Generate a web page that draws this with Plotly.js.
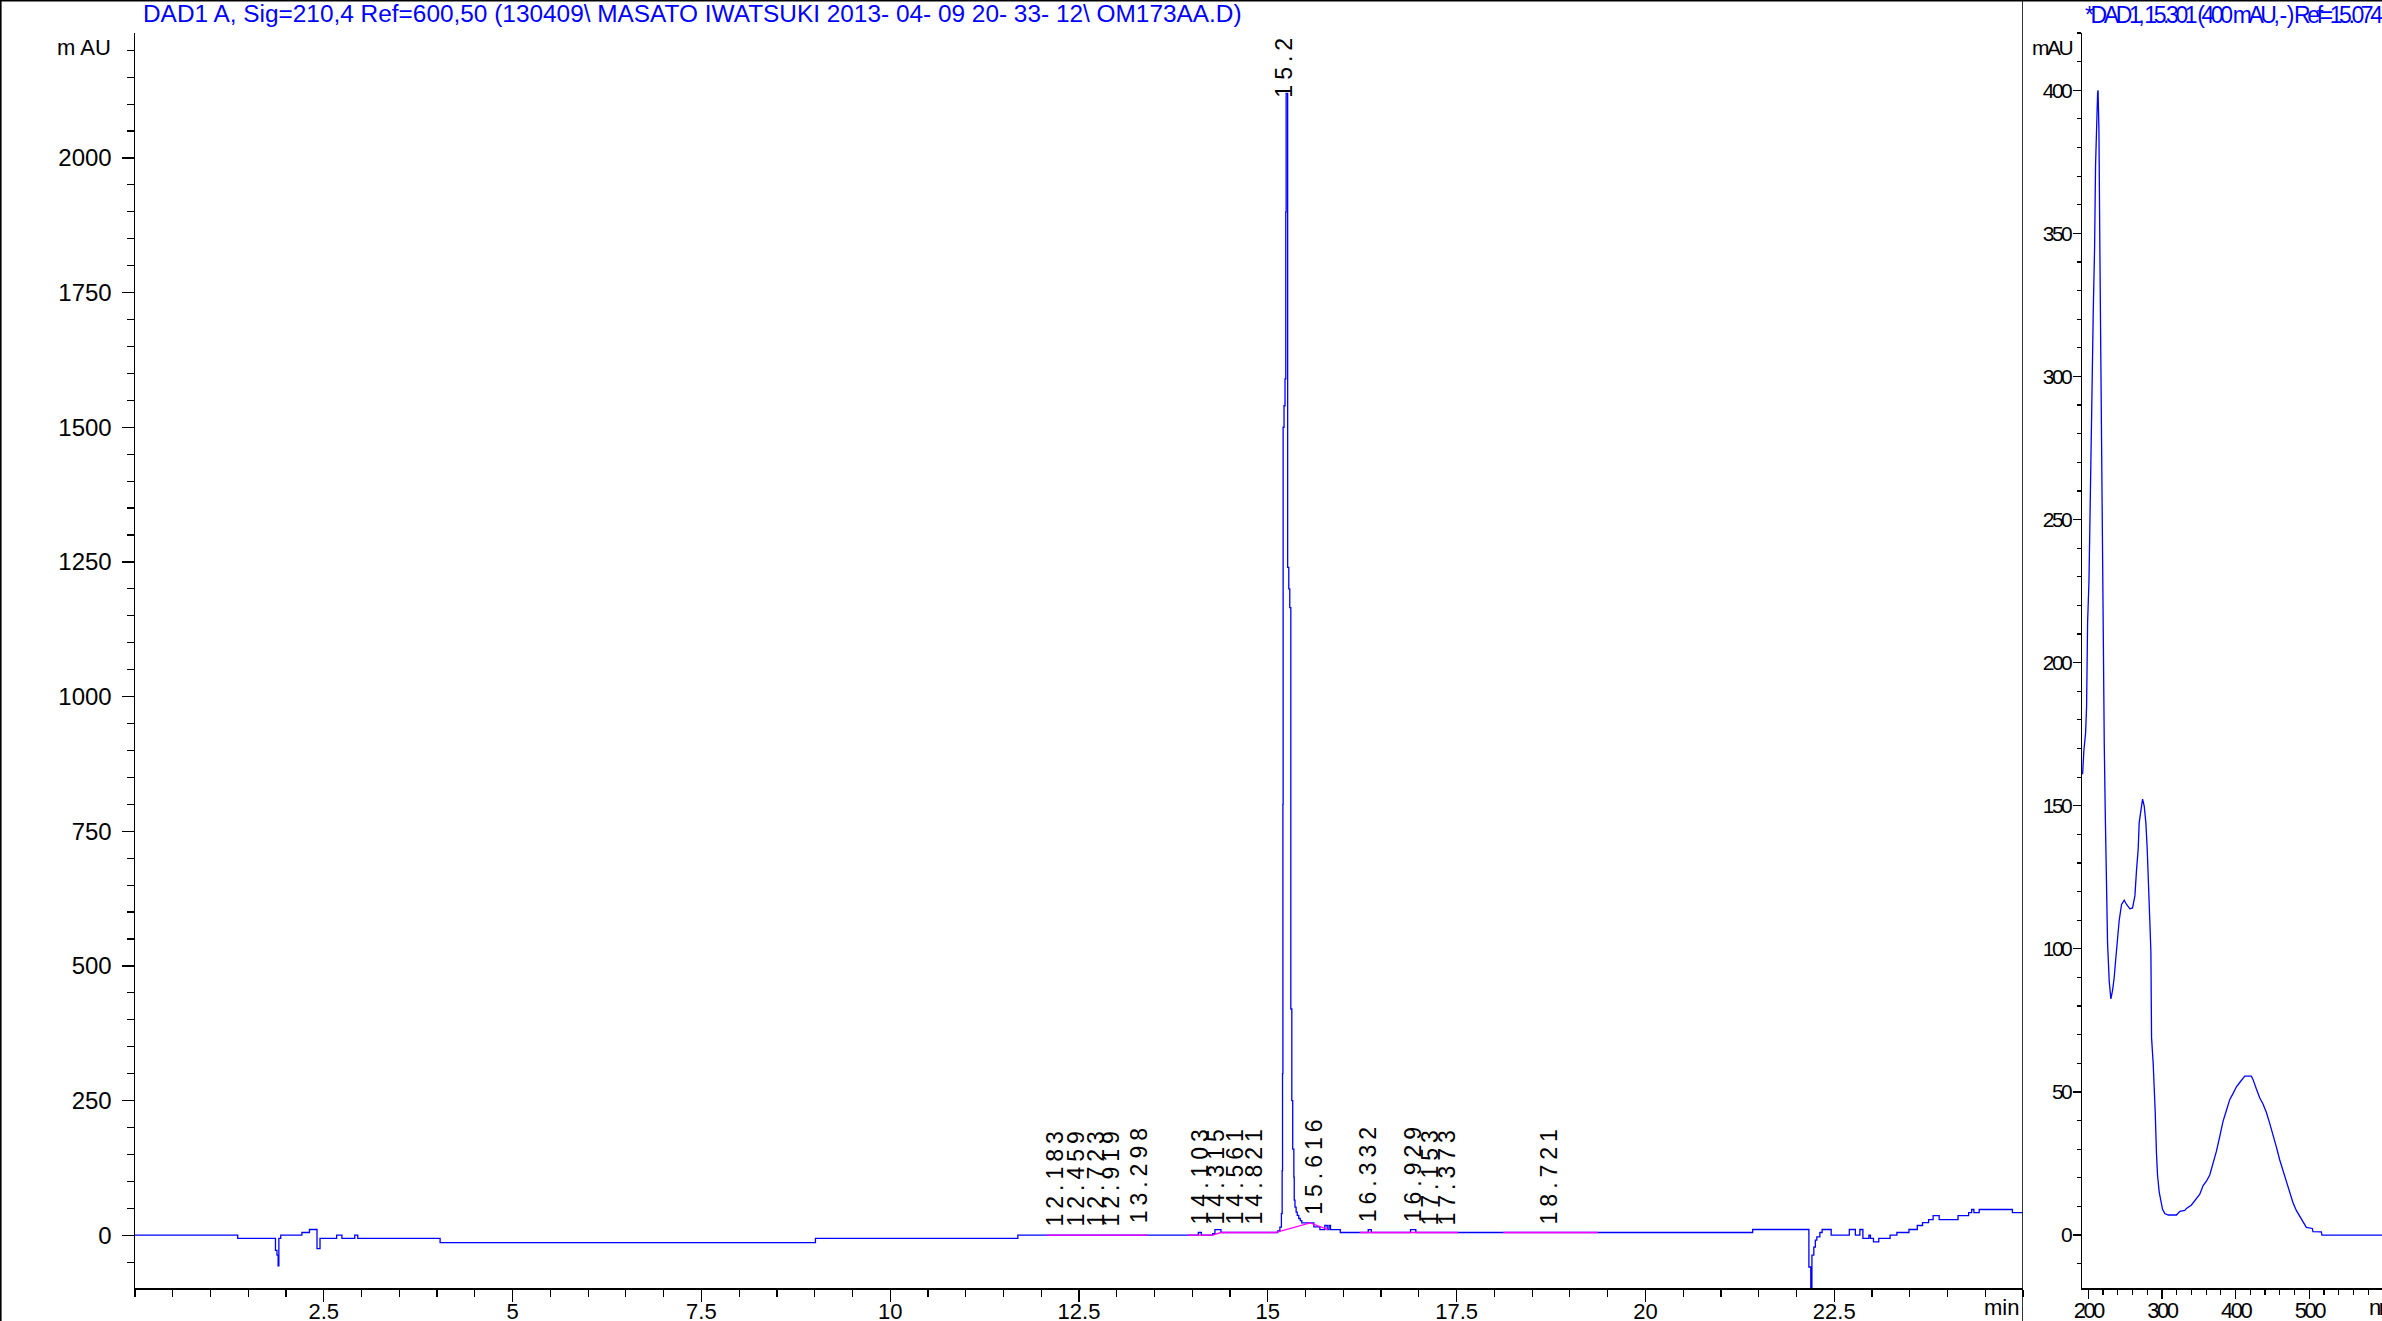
<!DOCTYPE html>
<html><head><meta charset="utf-8">
<script src="https://cdn.plot.ly/plotly-3.0.1.min.js"></script>
<style>
html,body{margin:0;padding:0;background:#fff;overflow:hidden}
#chart{width:2382px;height:1321px}
text.bartext{letter-spacing:5px}
text[style*="Narrow"]{letter-spacing:-2.5px}
text[style*="Arimo"]{letter-spacing:-3.4px}
</style></head><body><div id="chart"></div>
<script>
// ---------- DATA ----------
// Chromatogram (DAD1 A, 210 nm): retention time (min) and absorbance (mAU), stepwise
const timeMin = [0,1.36,1.86,1.88,1.895,1.905,1.93,2.21,2.31,2.41,2.45,2.67,2.74,2.91,2.95,4.04,9.01,11.69,
  14.08,14.12,14.27,14.30,14.38,15.10,15.13,15.16,15.18,15.19,15.195,15.20,15.203,15.215,15.228,15.238,15.243,
  15.263,15.278,15.291,15.305,15.318,15.33,15.345,15.35,15.36,15.375,15.39,15.41,15.43,15.45,15.61,15.69,15.755,
  15.787,15.81,15.83,15.96,16.33,16.37,16.89,16.96,21.42,22.165,22.19,22.205,22.23,22.25,22.27,22.31,22.34,22.46,
  22.70,22.78,22.84,22.88,22.96,22.98,23.02,23.09,23.24,23.33,23.49,23.60,23.67,23.75,23.81,23.89,24.14,24.28,
  24.32,24.35,24.42,24.86,25.0];
const signalMAU = [0,-6,-28,-37,-57,-6,0,5,10.6,-25,-6,0,-6,0,-6,-13.6,-6,0,
  5,0,3,10.5,5,5,8,15,40,120,300,800,1500,1540,1590,1900,2120,
  1240,1200,1165,420,250,160,108,65,52,43,37,31,27,23,15.5,10.5,18,
  10.5,18,10.5,5,10.5,5,10.5,5,10.6,-59,-115,-37,-22,-9,-3,5,10.6,0,
  10.6,0,10.6,-6,0,-6,-12.4,-6,0,5,10.6,18,23.5,29,36.5,29,36.5,42,
  47.7,42,47.7,42,42];

// Integration baselines (magenta)
const baseTime = [12.07,13.41,null,13.94,14.27,14.38,15.10,15.56,15.80,null,16.22,17.52,null,18.12,19.37];
const baseMAU  = [0,0,null,0,0,5,5,23,10.5,null,5,5,null,5,5];

// Peak retention-time labels
const peakTimes  = [12.183,12.459,12.723,12.919,13.298,14.103,14.315,14.561,14.821,15.213,15.616,16.332,16.929,17.153,17.373,18.721];
const peakLabels = ["12.183","12.459","12.723","12.919","13.298","14.103","14.315","14.561","14.821","15.213","15.616","16.332","16.929","17.153","17.373","18.721"];
const peakLabelY = [16,16,16,16,22,20,20,20,20,2112,38,24,24,18,18,20];

// UV spectrum at 15.301 min
const specNm  = [192.3,194.1,196.4,197.7,199.1,200.9,202.3,203.6,205.4,206.8,208.6,209.9,211.3,212.7,213.3,214.5,215.8,217.2,218.5,219.9,
  220.3,221.7,223.0,224.4,226.2,228.5,230.7,233.0,235.2,237.5,239.8,242.0,245.2,248.8,252.0,256.5,260.1,263.3,265.5,267.8,
  269.1,271.4,273.7,275.9,278.2,280.0,281.3,283.6,285.0,285.9,288.1,289.5,290.8,292.6,294.0,296.3,298.5,300.8,303.9,308.5,
  319.7,324.3,331.0,333.3,340.1,346.9,351.4,355.9,360.4,364.9,369.5,374.0,378.5,383.0,387.5,392.0,396.6,401.1,405.6,410.1,
  412.4,421.4,423.7,428.2,432.7,437.2,441.8,446.3,450.8,455.3,459.8,464.3,468.9,473.4,477.9,482.4,486.9,491.5,496.0,504.1,
  505.0,516.3,517.2,600];
const specMAU = [161,169.5,175.5,184.5,214,228,250,280,300,323,345,374,393,399,400,386,343,297,262,214,
  190,172,148.5,122,102,88.5,82.5,85.5,90,97,104,110,115.5,117,115.5,114,114.3,118.5,127.5,135,
  144,148.5,152.3,150,144,135,123,109.5,99,69,60,52.5,43.5,28.5,21,15,11.3,9,7.5,7,
  7,8.3,8.6,9.3,10.5,12.8,14.3,17.3,18.8,21,24.8,29.3,34.5,39.8,43.5,47.3,49.5,51.8,53.3,54.8,
  55.5,55.5,54.3,51,48,45.8,42.8,39,35.3,30.8,26.3,22.5,18.8,15,11.3,8.6,6.8,4.5,2.7,2.3,
  1.2,1.1,0,0];

// Tick values / labels
const timeTickVals = [2.5,5,7.5,10,12.5,15,17.5,20,22.5];
const timeTickText = ["2.5","5","7.5","10","12.5","15","17.5","20","22.5"];
const mauTickVals = [0,250,500,750,1000,1250,1500,1750,2000];
const nmTickVals = [200,300,400,500];
const specTickVals = [0,50,100,150,200,250,300,350,400];

const mainTitle = "DAD1 A, Sig=210,4 Ref=600,50 (130409\\ MASATO IWATSUKI 2013- 04- 09 20- 33- 12\\ OM173AA.D)";
const specTitle = "*DAD1, 15.301 (400 mAU, - ) Ref=15.074 &";

// ---------- LAYOUT HELPERS ----------
const W = 2382, H = 1321, MT = 33, MB = 33, PH = H - MT - MB;
const px = v => v / W;
const py = v => (H - MB - v) / PH;
const BLUE = '#0000ff', MAG = '#ff00ff';
const SANS = 'Liberation Sans, Arial, sans-serif';
const NARROW = 'Liberation Sans Narrow, Liberation Sans, Arial';
const SQUEEZE = 'Arimo, Liberation Sans, Arial';

const traces = [
  {type:'scatter', mode:'lines', x:timeMin, y:signalMAU, xaxis:'x', yaxis:'y',
   line:{color:BLUE, width:1.3, shape:'hv'}, hoverinfo:'skip', showlegend:false},
  {type:'scatter', mode:'lines', x:baseTime, y:baseMAU, xaxis:'x', yaxis:'y',
   line:{color:MAG, width:1.3}, connectgaps:false, hoverinfo:'skip', showlegend:false},
  {type:'bar', x:peakTimes, y:peakLabelY, text:peakLabels, xaxis:'x', yaxis:'y',
   width:0.001, marker:{color:'rgba(0,0,0,0)', line:{width:0}},
   textposition:'outside', textangle:-90, constraintext:'none', cliponaxis:true,
   textfont:{family:'Liberation Sans, sans-serif', size:23, color:'#000'},
   hoverinfo:'skip', showlegend:false},
  {type:'scatter', mode:'lines', x:specNm, y:specMAU, xaxis:'x2', yaxis:'y2',
   line:{color:BLUE, width:1.3}, hoverinfo:'skip', showlegend:false}
];

const axCommon = {showgrid:false, zeroline:false, showline:true, linecolor:'#000', linewidth:1.5,
  ticks:'outside', tickcolor:'#000', tickwidth:1.3, fixedrange:true};

const layout = {
  width:W, height:H, margin:{l:0, r:0, t:MT, b:MB, pad:0},
  paper_bgcolor:'#fff', plot_bgcolor:'#fff', showlegend:false, hovermode:false,
  title:{text:mainTitle, font:{family:SANS, size:24.4, color:BLUE},
         x:px(143), xanchor:'left', xref:'container', y:1-13/H, yanchor:'middle', yref:'container'},
  xaxis:Object.assign({}, axCommon, {domain:[px(135), px(2023)], range:[0,25], anchor:'y',
    tickmode:'array', tickvals:timeTickVals, ticktext:timeTickText, ticklen:12, ticklabelstandoff:-9,
    tickfont:{family:SANS, size:22, color:'#000'},
    minor:{tickmode:'linear', tick0:0, dtick:0.5, ticks:'outside', ticklen:7, tickcolor:'#000', tickwidth:1.2, showgrid:false}}),
  yaxis:Object.assign({}, axCommon, {domain:[0,1], range:[-98,2232], anchor:'x',
    tickmode:'array', tickvals:mauTickVals, ticklen:12, ticklabelstandoff:5,
    tickfont:{family:SANS, size:24, color:'#000'},
    minor:{tickmode:'linear', tick0:0, dtick:50, ticks:'outside', ticklen:7, tickcolor:'#000', tickwidth:1.2, showgrid:false}}),
  xaxis2:Object.assign({}, axCommon, {domain:[px(2082), 1], range:[191.5,598.7], anchor:'y2',
    tickmode:'array', tickvals:nmTickVals, ticklen:9, ticklabelstandoff:-7,
    tickfont:{family:NARROW, size:22, color:'#000'},
    minor:{tickmode:'linear', tick0:200, dtick:20, ticks:'outside', ticklen:5, tickcolor:'#000', tickwidth:1.2, showgrid:false}}),
  yaxis2:Object.assign({}, axCommon, {domain:[0,1], range:[-18.5,420], anchor:'x2',
    tickmode:'array', tickvals:specTickVals, ticklen:8, ticklabelstandoff:-2,
    tickfont:{family:NARROW, size:21, color:'#000'},
    minor:{tickmode:'linear', tick0:0, dtick:10, ticks:'outside', ticklen:4, tickcolor:'#000', tickwidth:1.2, showgrid:false}}),
  shapes:[
    {type:'line', xref:'paper', yref:'paper', x0:0, x1:1, y0:py(0.8), y1:py(0.8), line:{color:'#000', width:1.6}},
    {type:'line', xref:'paper', yref:'paper', x0:px(0.8), x1:px(0.8), y0:py(H), y1:py(0), line:{color:'#000', width:1.6}},
    {type:'line', xref:'x', yref:'paper', x0:25, x1:25, y0:py(H), y1:py(0), line:{color:'#000', width:1.6}}
  ],
  annotations:[
    {text:'m AU', xref:'paper', yref:'paper', x:px(113), y:py(48), xanchor:'right', yanchor:'middle',
     showarrow:false, font:{family:SANS, size:22, color:'#000'}},
    {text:'min', xref:'paper', yref:'paper', x:px(2021), y:py(1307), xanchor:'right', yanchor:'middle',
     showarrow:false, font:{family:SANS, size:22, color:'#000'}},
    {text:'mAU', xref:'paper', yref:'paper', x:px(2075), y:py(48), xanchor:'right', yanchor:'middle',
     showarrow:false, font:{family:NARROW, size:21, color:'#000'}},
    {text:'nm', xref:'paper', yref:'paper', x:px(2367), y:py(1307), xanchor:'left', yanchor:'middle',
     showarrow:false, font:{family:NARROW, size:22, color:'#000'}},
    {text:specTitle, xref:'paper', yref:'paper', x:px(2083), y:py(15), xanchor:'left', yanchor:'middle',
     showarrow:false, font:{family:SQUEEZE, size:23, color:BLUE}}
  ]
};

Plotly.newPlot('chart', traces, layout, {staticPlot:true, displayModeBar:false});
</script></body></html>
